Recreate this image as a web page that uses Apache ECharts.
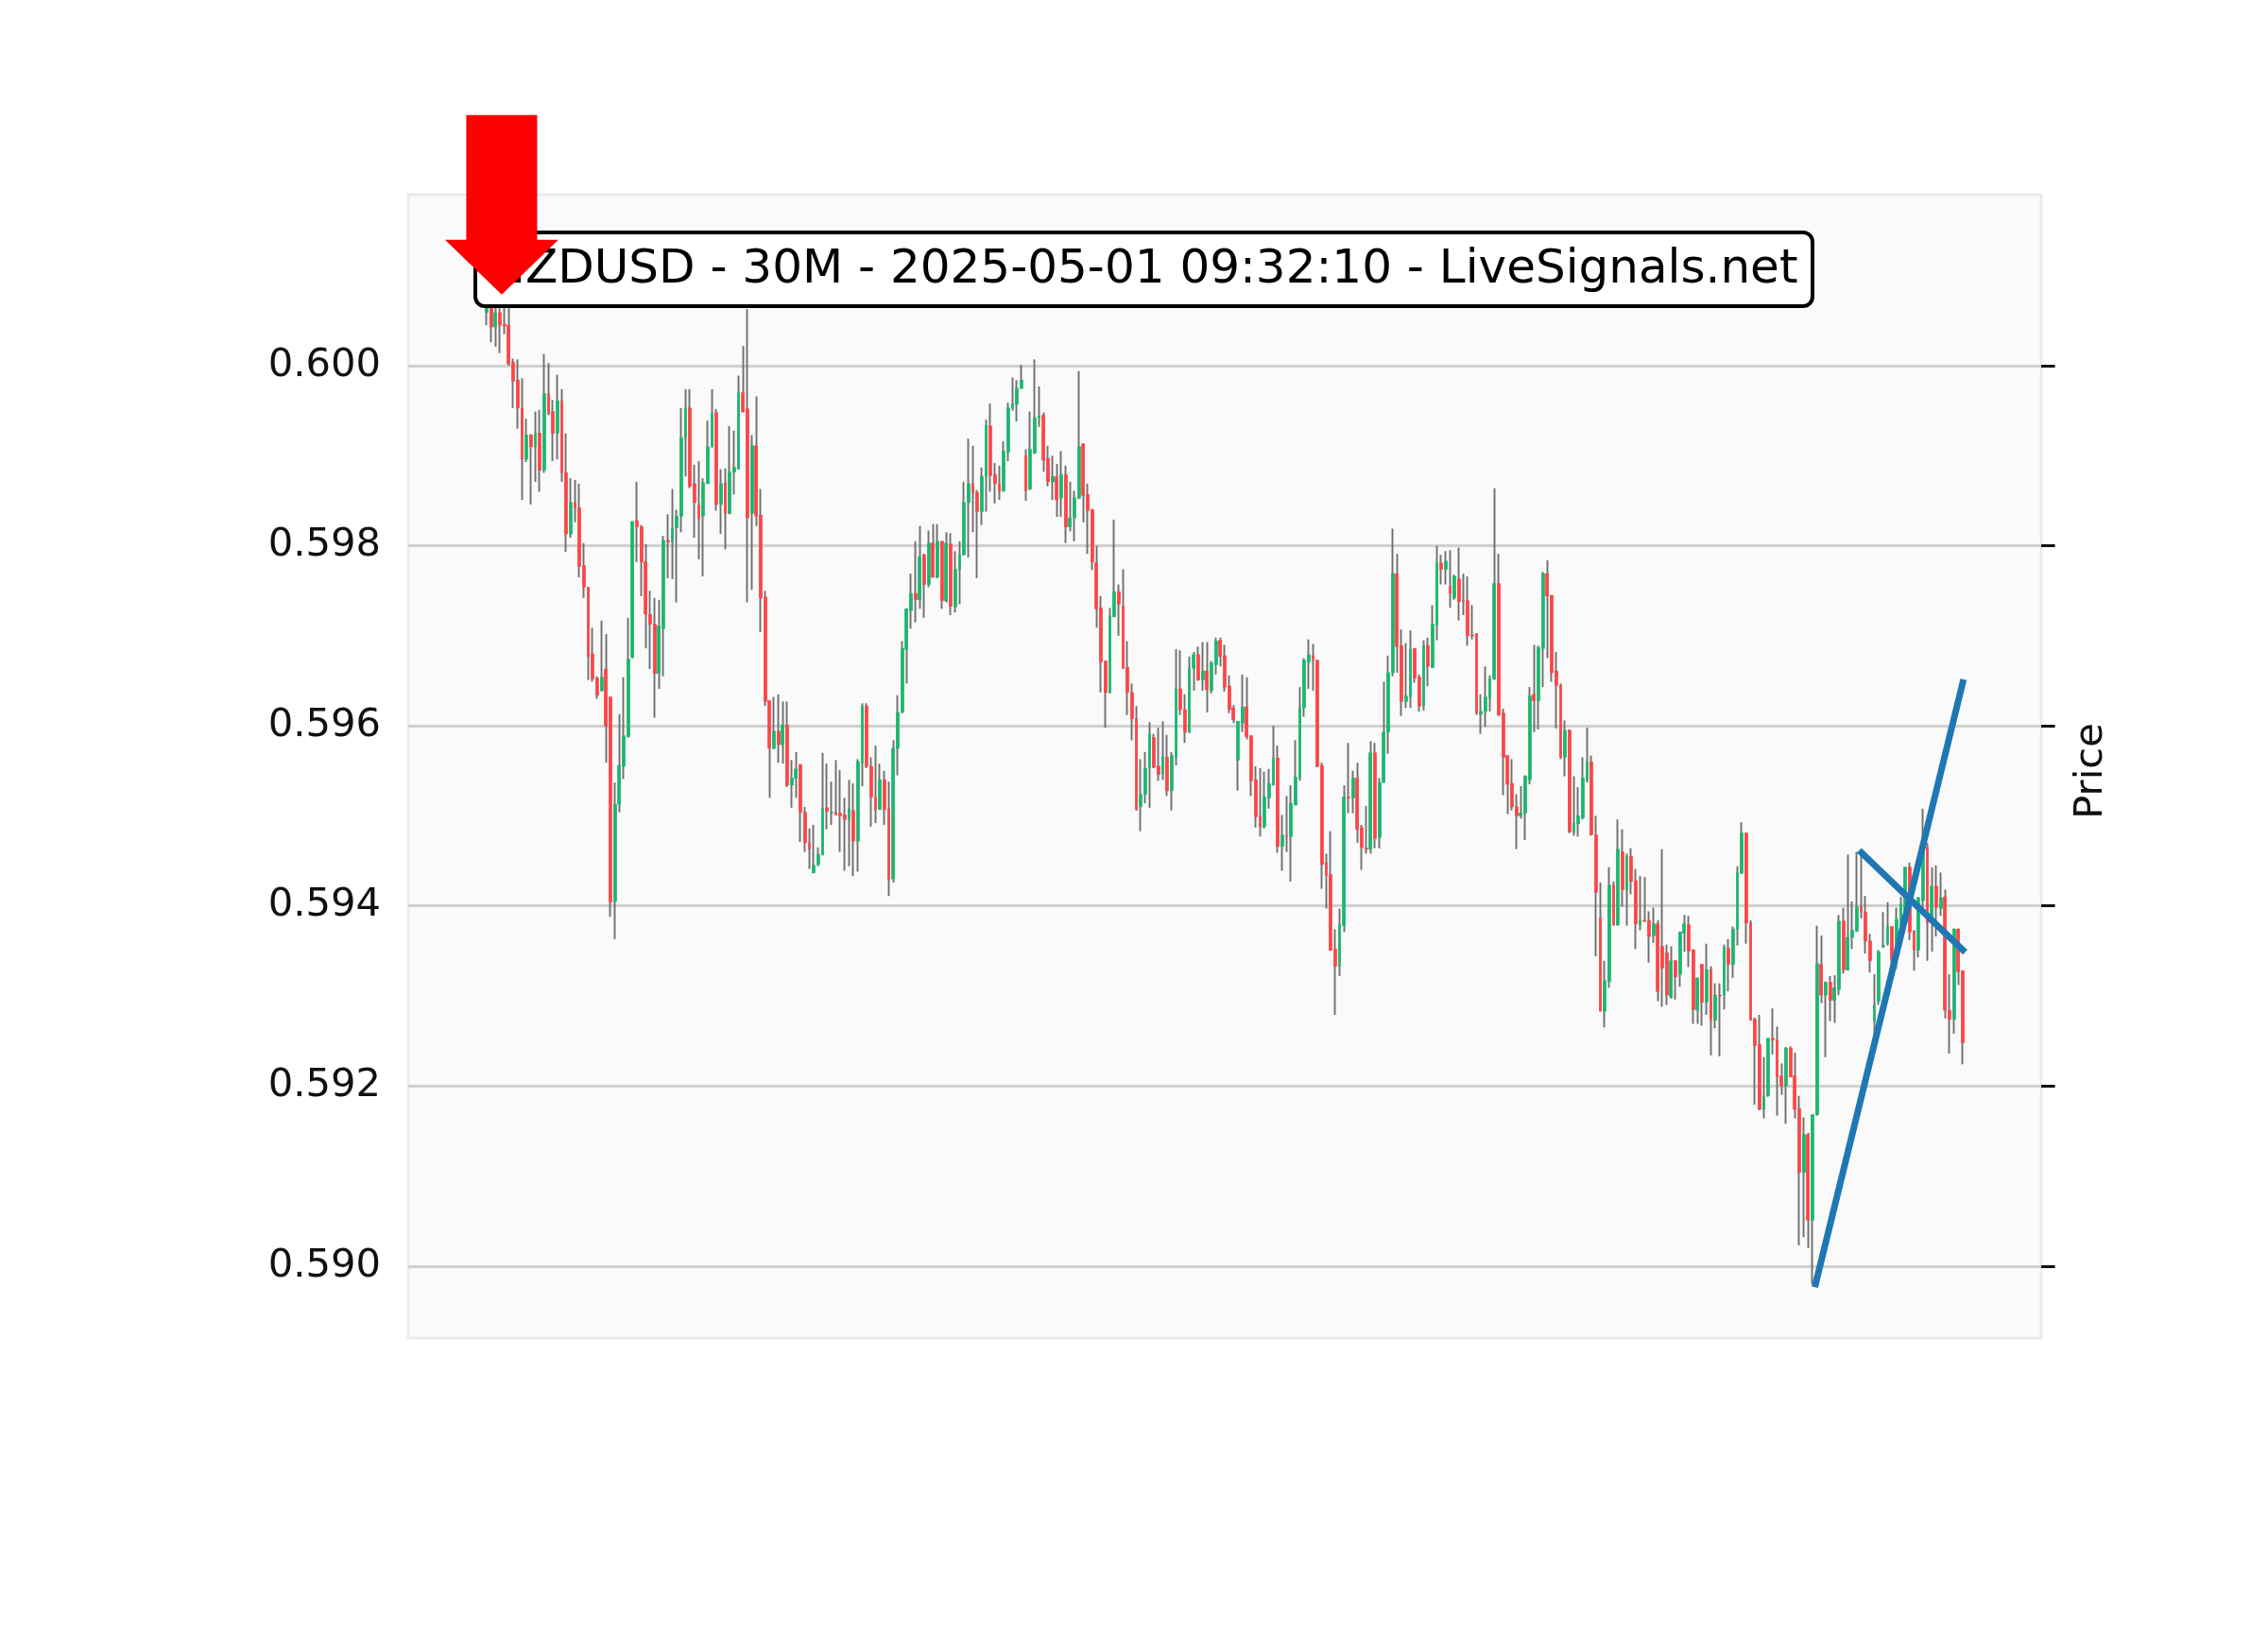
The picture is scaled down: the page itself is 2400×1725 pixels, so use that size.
<!DOCTYPE html>
<html><head><meta charset="utf-8">
<script src="https://cdn.jsdelivr.net/npm/echarts@6/dist/echarts.min.js"></script>
<style>html,body{margin:0;padding:0;background:#fff;} #c{width:2400px;height:1725px;}</style>
</head><body><div id="c"></div>
<script>
// NZDUSD 30M candles (index 0..334)
const opens = [
0.60059,0.60064,0.60043,0.60059,0.60046,0.60045,0.60004,0.59984,0.59953,0.59896,
0.59923,0.59910,0.59925,0.59884,0.59969,0.59949,0.59925,0.59961,0.59881,0.59813,
0.59848,0.59842,0.59778,0.59754,0.59680,0.59653,0.59639,0.59663,0.59632,0.59405,
0.59513,0.59555,0.59588,0.59676,0.59828,0.59821,0.59782,0.59724,0.59713,0.59658,
0.59708,0.59806,0.59804,0.59820,0.59833,0.59920,0.59953,0.59869,0.59845,0.59833,
0.59869,0.59910,0.59948,0.59846,0.59870,0.59836,0.59882,0.59885,0.59970,0.59952,
0.59836,0.59911,0.59834,0.59743,0.59628,0.59575,0.59594,0.59579,0.59601,0.59534,
0.59542,0.59557,0.59504,0.59470,0.59437,0.59446,0.59457,0.59509,0.59503,0.59504,
0.59503,0.59501,0.59495,0.59506,0.59472,0.59559,0.59622,0.59555,0.59521,0.59507,
0.59540,0.59508,0.59430,0.59575,0.59615,0.59685,0.59728,0.59747,0.59740,0.59790,
0.59757,0.59803,0.59765,0.59805,0.59739,0.59802,0.59732,0.59774,0.59790,0.59848,
0.59869,0.59859,0.59838,0.59877,0.59933,0.59879,0.59869,0.59861,0.59904,0.59953,
0.59957,0.59975,0.59900,0.59863,0.59903,0.59942,0.59945,0.59897,0.59871,0.59877,
0.59853,0.59879,0.59821,0.59831,0.59853,0.59913,0.59857,0.59840,0.59781,0.59731,
0.59672,0.59637,0.59721,0.59749,0.59733,0.59665,0.59637,0.59608,0.59510,0.59524,
0.59553,0.59587,0.59555,0.59546,0.59565,0.59528,0.59565,0.59641,0.59618,0.59593,
0.59664,0.59679,0.59651,0.59661,0.59639,0.59668,0.59695,0.59678,0.59644,0.59620,
0.59562,0.59603,0.59621,0.59589,0.59540,0.59500,0.59488,0.59520,0.59534,0.59564,
0.59466,0.59478,0.59477,0.59512,0.59542,0.59620,0.59671,0.59678,0.59673,0.59556,
0.59448,0.59435,0.59352,0.59333,0.59378,0.59521,0.59520,0.59542,0.59487,0.59464,
0.59463,0.59570,0.59476,0.59537,0.59593,0.59659,0.59769,0.59689,0.59627,0.59632,
0.59686,0.59654,0.59622,0.59689,0.59665,0.59712,0.59781,0.59774,0.59755,0.59742,
0.59763,0.59739,0.59739,0.59701,0.59702,0.59613,0.59616,0.59631,0.59652,0.59758,
0.59614,0.59567,0.59536,0.59510,0.59500,0.59503,0.59540,0.59635,0.59628,0.59686,
0.59769,0.59745,0.59661,0.59645,0.59565,0.59595,0.59482,0.59491,0.59498,0.59540,
0.59560,0.59479,0.59387,0.59283,0.59316,0.59423,0.59379,0.59460,0.59418,0.59455,
0.59428,0.59379,0.59384,0.59384,0.59367,0.59380,0.59355,0.59348,0.59299,0.59339,
0.59324,0.59370,0.59379,0.59351,0.59284,0.59335,0.59293,0.59329,0.59273,0.59301,
0.59301,0.59353,0.59335,0.59374,0.59436,0.59481,0.59381,0.59274,0.59246,0.59174,
0.59189,0.59253,0.59251,0.59211,0.59200,0.59242,0.59211,0.59175,0.59104,0.59146,
0.59051,0.59168,0.59335,0.59301,0.59315,0.59295,0.59307,0.59383,0.59329,0.59365,
0.59372,0.59399,0.59393,0.59361,0.59272,0.59294,0.59355,0.59358,0.59377,0.59354,
0.59376,0.59396,0.59443,0.59372,0.59351,0.59406,0.59465,0.59383,0.59422,0.59397,
0.59410,0.59284,0.59274,0.59374,0.59328
];
const closes = [
0.60064,0.60043,0.60059,0.60045,0.60044,0.60002,0.59983,0.59953,0.59896,0.59923,
0.59910,0.59925,0.59884,0.59969,0.59947,0.59925,0.59961,0.59881,0.59813,0.59848,
0.59842,0.59777,0.59754,0.59677,0.59652,0.59634,0.59654,0.59600,0.59404,0.59513,
0.59556,0.59589,0.59674,0.59827,0.59821,0.59782,0.59724,0.59713,0.59658,0.59711,
0.59806,0.59804,0.59820,0.59833,0.59920,0.59953,0.59866,0.59848,0.59830,0.59870,
0.59910,0.59947,0.59846,0.59869,0.59836,0.59882,0.59887,0.59971,0.59949,0.59831,
0.59911,0.59833,0.59742,0.59627,0.59575,0.59594,0.59579,0.59601,0.59534,0.59542,
0.59552,0.59504,0.59470,0.59463,0.59445,0.59457,0.59508,0.59505,0.59504,0.59501,
0.59500,0.59496,0.59508,0.59472,0.59560,0.59622,0.59555,0.59521,0.59507,0.59540,
0.59507,0.59429,0.59575,0.59615,0.59686,0.59730,0.59747,0.59740,0.59788,0.59757,
0.59803,0.59765,0.59805,0.59739,0.59803,0.59733,0.59774,0.59790,0.59848,0.59869,
0.59859,0.59838,0.59877,0.59934,0.59878,0.59869,0.59861,0.59905,0.59953,0.59958,
0.59975,0.59984,0.59861,0.59907,0.59942,0.59944,0.59895,0.59871,0.59877,0.59851,
0.59879,0.59821,0.59831,0.59853,0.59910,0.59856,0.59839,0.59782,0.59730,0.59671,
0.59637,0.59722,0.59749,0.59735,0.59664,0.59637,0.59608,0.59507,0.59524,0.59553,
0.59591,0.59554,0.59546,0.59566,0.59528,0.59567,0.59641,0.59618,0.59593,0.59664,
0.59679,0.59651,0.59661,0.59640,0.59670,0.59694,0.59677,0.59643,0.59618,0.59607,
0.59605,0.59621,0.59588,0.59539,0.59499,0.59488,0.59521,0.59536,0.59564,0.59466,
0.59479,0.59477,0.59514,0.59543,0.59620,0.59673,0.59679,0.59673,0.59555,0.59446,
0.59434,0.59351,0.59333,0.59379,0.59521,0.59520,0.59542,0.59485,0.59465,0.59463,
0.59570,0.59475,0.59537,0.59593,0.59659,0.59769,0.59688,0.59627,0.59633,0.59685,
0.59653,0.59622,0.59689,0.59666,0.59713,0.59781,0.59774,0.59783,0.59747,0.59766,
0.59738,0.59738,0.59700,0.59700,0.59614,0.59616,0.59632,0.59652,0.59758,0.59612,
0.59565,0.59535,0.59510,0.59500,0.59503,0.59544,0.59633,0.59628,0.59687,0.59769,
0.59744,0.59659,0.59645,0.59565,0.59595,0.59482,0.59492,0.59500,0.59542,0.59560,
0.59479,0.59415,0.59283,0.59317,0.59423,0.59379,0.59463,0.59418,0.59455,0.59427,
0.59380,0.59384,0.59383,0.59366,0.59380,0.59305,0.59331,0.59301,0.59339,0.59321,
0.59371,0.59380,0.59350,0.59285,0.59320,0.59293,0.59329,0.59273,0.59301,0.59300,
0.59354,0.59335,0.59374,0.59437,0.59481,0.59381,0.59273,0.59245,0.59174,0.59189,
0.59253,0.59251,0.59210,0.59200,0.59242,0.59210,0.59174,0.59104,0.59146,0.59051,
0.59168,0.59336,0.59301,0.59315,0.59295,0.59309,0.59383,0.59329,0.59365,0.59373,
0.59399,0.59393,0.59361,0.59339,0.59290,0.59349,0.59356,0.59377,0.59341,0.59385,
0.59402,0.59443,0.59371,0.59351,0.59409,0.59462,0.59381,0.59422,0.59398,0.59409,
0.59284,0.59274,0.59374,0.59327,0.59248
];
const lows = [
0.60045,0.60026,0.60021,0.60014,0.60035,0.60000,0.59953,0.59930,0.59851,0.59893,
0.59846,0.59871,0.59860,0.59881,0.59945,0.59894,0.59896,0.59871,0.59793,0.59809,
0.59826,0.59765,0.59742,0.59651,0.59649,0.59630,0.59638,0.59559,0.59388,0.59363,
0.59504,0.59541,0.59587,0.59675,0.59782,0.59744,0.59686,0.59663,0.59609,0.59641,
0.59655,0.59764,0.59763,0.59737,0.59815,0.59877,0.59864,0.59809,0.59785,0.59766,
0.59869,0.59909,0.59839,0.59813,0.59796,0.59835,0.59857,0.59885,0.59948,0.59737,
0.59751,0.59822,0.59704,0.59622,0.59520,0.59574,0.59559,0.59558,0.59532,0.59509,
0.59520,0.59471,0.59460,0.59441,0.59436,0.59444,0.59456,0.59485,0.59490,0.59501,
0.59460,0.59439,0.59444,0.59433,0.59438,0.59533,0.59553,0.59488,0.59492,0.59507,
0.59490,0.59411,0.59426,0.59545,0.59614,0.59647,0.59708,0.59715,0.59730,0.59720,
0.59754,0.59765,0.59764,0.59730,0.59737,0.59723,0.59726,0.59735,0.59789,0.59787,
0.59815,0.59764,0.59823,0.59838,0.59860,0.59847,0.59851,0.59860,0.59894,0.59950,
0.59938,0.59974,0.59850,0.59862,0.59902,0.59932,0.59882,0.59866,0.59851,0.59832,
0.59832,0.59803,0.59816,0.59805,0.59852,0.59826,0.59791,0.59773,0.59709,0.59637,
0.59598,0.59636,0.59721,0.59700,0.59663,0.59612,0.59584,0.59506,0.59483,0.59514,
0.59509,0.59553,0.59539,0.59540,0.59522,0.59506,0.59556,0.59612,0.59581,0.59592,
0.59639,0.59650,0.59639,0.59615,0.59636,0.59657,0.59666,0.59638,0.59614,0.59603,
0.59528,0.59593,0.59585,0.59522,0.59487,0.59477,0.59486,0.59508,0.59534,0.59459,
0.59439,0.59460,0.59427,0.59512,0.59539,0.59610,0.59641,0.59639,0.59554,0.59419,
0.59397,0.59350,0.59279,0.59322,0.59371,0.59503,0.59503,0.59470,0.59440,0.59458,
0.59458,0.59464,0.59464,0.59537,0.59569,0.59655,0.59659,0.59611,0.59620,0.59620,
0.59648,0.59616,0.59617,0.59644,0.59664,0.59695,0.59757,0.59757,0.59731,0.59740,
0.59717,0.59723,0.59689,0.59696,0.59612,0.59591,0.59599,0.59616,0.59651,0.59611,
0.59523,0.59502,0.59506,0.59463,0.59497,0.59473,0.59535,0.59593,0.59596,0.59643,
0.59675,0.59649,0.59597,0.59563,0.59544,0.59481,0.59478,0.59477,0.59496,0.59537,
0.59478,0.59344,0.59283,0.59265,0.59309,0.59378,0.59378,0.59399,0.59378,0.59413,
0.59352,0.59373,0.59382,0.59337,0.59359,0.59294,0.59288,0.59290,0.59297,0.59296,
0.59310,0.59349,0.59332,0.59269,0.59269,0.59267,0.59279,0.59234,0.59264,0.59233,
0.59285,0.59305,0.59320,0.59356,0.59436,0.59358,0.59273,0.59179,0.59173,0.59164,
0.59188,0.59235,0.59167,0.59190,0.59158,0.59210,0.59164,0.59023,0.59032,0.59020,
0.58980,0.59167,0.59292,0.59232,0.59272,0.59270,0.59301,0.59325,0.59328,0.59352,
0.59371,0.59386,0.59347,0.59326,0.59244,0.59290,0.59353,0.59356,0.59330,0.59330,
0.59370,0.59390,0.59362,0.59328,0.59343,0.59395,0.59339,0.59349,0.59366,0.59389,
0.59275,0.59236,0.59258,0.59312,0.59224
];
const highs = [
0.60072,0.60070,0.60068,0.60068,0.60064,0.60064,0.60008,0.60007,0.59986,0.59941,
0.59924,0.59949,0.59951,0.60013,0.60003,0.59962,0.59990,0.59974,0.59925,0.59875,
0.59873,0.59869,0.59803,0.59754,0.59709,0.59655,0.59717,0.59702,0.59632,0.59537,
0.59613,0.59654,0.59720,0.59827,0.59871,0.59823,0.59802,0.59750,0.59742,0.59740,
0.59811,0.59835,0.59863,0.59840,0.59953,0.59974,0.59974,0.59890,0.59894,0.59875,
0.59939,0.59974,0.59952,0.59885,0.59886,0.59933,0.59928,0.59989,0.60022,0.60063,
0.59923,0.59966,0.59863,0.59750,0.59628,0.59632,0.59635,0.59627,0.59627,0.59562,
0.59571,0.59557,0.59510,0.59486,0.59490,0.59465,0.59570,0.59558,0.59538,0.59562,
0.59551,0.59520,0.59540,0.59536,0.59563,0.59625,0.59625,0.59565,0.59578,0.59558,
0.59550,0.59538,0.59584,0.59634,0.59694,0.59730,0.59769,0.59805,0.59822,0.59791,
0.59817,0.59824,0.59824,0.59805,0.59815,0.59814,0.59794,0.59805,0.59871,0.59919,
0.59911,0.59862,0.59887,0.59940,0.59958,0.59892,0.59889,0.59916,0.59959,0.59987,
0.59984,0.60001,0.59907,0.59949,0.60007,0.59977,0.59948,0.59911,0.59900,0.59891,
0.59905,0.59889,0.59871,0.59861,0.59994,0.59914,0.59869,0.59841,0.59800,0.59744,
0.59672,0.59731,0.59829,0.59757,0.59774,0.59694,0.59647,0.59622,0.59563,0.59571,
0.59604,0.59591,0.59598,0.59605,0.59590,0.59571,0.59685,0.59684,0.59635,0.59677,
0.59682,0.59688,0.59693,0.59693,0.59672,0.59698,0.59698,0.59690,0.59656,0.59623,
0.59605,0.59657,0.59654,0.59589,0.59555,0.59553,0.59549,0.59552,0.59600,0.59578,
0.59501,0.59522,0.59534,0.59584,0.59643,0.59675,0.59696,0.59691,0.59673,0.59559,
0.59458,0.59483,0.59374,0.59397,0.59534,0.59581,0.59550,0.59559,0.59490,0.59511,
0.59583,0.59581,0.59542,0.59649,0.59678,0.59819,0.59791,0.59707,0.59692,0.59706,
0.59686,0.59657,0.59695,0.59698,0.59734,0.59800,0.59790,0.59794,0.59795,0.59768,
0.59798,0.59769,0.59766,0.59734,0.59703,0.59635,0.59666,0.59656,0.59864,0.59791,
0.59619,0.59567,0.59563,0.59524,0.59533,0.59545,0.59643,0.59690,0.59689,0.59771,
0.59784,0.59745,0.59682,0.59647,0.59606,0.59596,0.59544,0.59532,0.59565,0.59598,
0.59567,0.59500,0.59426,0.59339,0.59443,0.59427,0.59496,0.59485,0.59458,0.59464,
0.59441,0.59433,0.59432,0.59394,0.59398,0.59384,0.59463,0.59357,0.59355,0.59340,
0.59371,0.59390,0.59389,0.59352,0.59320,0.59335,0.59358,0.59333,0.59314,0.59314,
0.59357,0.59363,0.59377,0.59444,0.59493,0.59481,0.59384,0.59276,0.59279,0.59232,
0.59253,0.59286,0.59266,0.59225,0.59243,0.59244,0.59237,0.59189,0.59165,0.59148,
0.59168,0.59378,0.59367,0.59316,0.59322,0.59323,0.59390,0.59398,0.59457,0.59405,
0.59460,0.59460,0.59411,0.59369,0.59324,0.59351,0.59393,0.59404,0.59377,0.59398,
0.59410,0.59443,0.59448,0.59373,0.59410,0.59508,0.59470,0.59443,0.59445,0.59437,
0.59418,0.59324,0.59375,0.59375,0.59328
];
const tickValues = [0.590, 0.592, 0.594, 0.596, 0.598, 0.600];
const yMin = 0.58920, yMax = 0.60190;
const xMin = -17.75, xMax = 351.75;
const titleText = 'NZDUSD - 30M - 2025-05-01 09:32:10 - LiveSignals.net';
const yAxisTitle = 'Price';
const trendLine1 = [[300.7, 0.58980], [334, 0.59648]];
const trendLine2 = [[311.1, 0.59459], [334, 0.59351]];
const arrowTip = [3.4, 0.60079];

const FONT = 'DejaVu Sans';
const UP = '#19b76f', DOWN = '#fe4446', WICK = '#6f6f6f';
const chart = echarts.init(document.getElementById('c'), null, {renderer: 'canvas', width: 2400, height: 1725});
const idx = opens.map((_, i) => i);
const wickData = idx.map(i => [i, opens[i], closes[i], lows[i], highs[i]]);
const bodyData = idx.map(i => [i, opens[i], closes[i], Math.min(opens[i], closes[i]), Math.max(opens[i], closes[i])]);

const option = {
  animation: false,
  backgroundColor: '#ffffff',
  grid: {left: 432, top: 206, width: 1728, height: 1210, show: true, backgroundColor: '#fafafa',
         borderColor: '#ebebeb', borderWidth: 3, containLabel: false, outerBoundsMode: 'none'},
  xAxis: {type: 'value', min: xMin, max: xMax, show: false},
  yAxis: [
    {type: 'value', position: 'left', min: yMin, max: yMax, splitNumber: 6,
     axisLine: {show: false},
     axisTick: {show: false, customValues: tickValues},
     axisLabel: {show: true, customValues: tickValues, formatter: v => v.toFixed(3), margin: 29,
                 fontSize: 41.67, color: '#101010', fontFamily: FONT, padding: [10, 0, 0, 0]},
     splitLine: {show: true, lineStyle: {color: '#d0d0d0', width: 3}}},
    {type: 'value', position: 'right', min: yMin, max: yMax, splitNumber: 6,
     axisLine: {show: false},
     axisTick: {show: true, customValues: tickValues, length: 14.6, inside: false, lineStyle: {color: '#101010', width: 3}},
     axisLabel: {show: false}, splitLine: {show: false}}
  ],
  series: [
    {type: 'candlestick', name: 'wick', data: wickData, encode: {x: 0, y: [1, 2, 3, 4]}, barWidth: 0.01,
     itemStyle: {color: WICK, color0: WICK, borderColor: WICK, borderColor0: WICK, borderWidth: 1.9},
     z: 2, silent: true},
    {type: 'candlestick', name: 'body', data: bodyData, encode: {x: 0, y: [1, 2, 3, 4]}, barWidth: 3.3,
     itemStyle: {color: UP, color0: DOWN, borderColor: UP, borderColor0: DOWN, borderWidth: 0.7},
     z: 3, silent: true},
    {type: 'line', data: trendLine1, symbol: 'none', silent: true, z: 5,
     lineStyle: {color: '#1f77b4', width: 7, cap: 'square'}},
    {type: 'line', data: trendLine2, symbol: 'none', silent: true, z: 5,
     lineStyle: {color: '#1f77b4', width: 7, cap: 'square'}}
  ]
};
chart.setOption(option);

const tip = chart.convertToPixel({xAxisIndex: 0, yAxisIndex: 0}, arrowTip);
const tx = tip[0], ty = tip[1];
chart.setOption({
  graphic: [
    {type: 'rect', z: 100, shape: {x: 503, y: 246, width: 1415, height: 78, r: 10},
     style: {fill: '#ffffff', stroke: '#000000', lineWidth: 4}},
    {type: 'text', z: 101, x: 1210.5, y: 286,
     style: {text: titleText, fontSize: 50, fontFamily: FONT, fill: '#000000', align: 'center', verticalAlign: 'middle'}},
    {type: 'polygon', z: 102,
     shape: {points: [[tx - 37.5, ty - 190], [tx + 37.5, ty - 190], [tx + 37.5, ty - 58], [tx + 60, ty - 58],
                      [tx, ty], [tx - 60, ty - 58], [tx - 37.5, ty - 58]]},
     style: {fill: '#ff0000'}},
    {type: 'text', z: 50, x: 2213, y: 816, rotation: Math.PI / 2,
     style: {text: yAxisTitle, fontSize: 41.67, fontFamily: FONT, fill: '#101010', align: 'center', verticalAlign: 'middle'}}
  ]
});
</script>
</body></html>
